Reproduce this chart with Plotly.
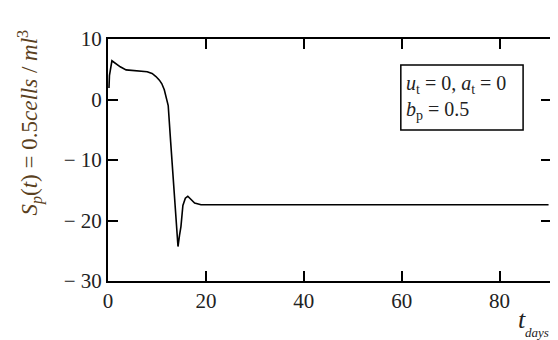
import plotly.graph_objects as go

t_days = [0.2, 0.3, 0.8, 1.5, 2.5, 3.7, 5.5, 8.0, 9.0, 9.8, 10.5, 11.0, 11.5, 11.9, 12.3,
          12.8, 13.3, 13.8, 14.1, 14.3, 14.6, 14.9, 15.3, 15.8, 16.3, 17.0, 17.7, 19.0, 90.0]
S_p = [1.9, 4.0, 6.4, 6.0, 5.4, 4.9, 4.8, 4.6, 4.3, 3.8, 3.2, 2.6, 1.6, 0.5, -1.0,
       -7.0, -13.0, -18.0, -21.5, -24.3, -22.5, -21.0, -17.5, -16.3, -16.0, -16.6, -17.1, -17.4, -17.4]

x_ticks = [0, 20, 40, 60, 80]
x_ticklabels = ["0", "20", "40", "60", "80"]
y_ticks = [10, 0, -10, -20, -30]
y_ticklabels = ["10", "0", "− 10", "− 20", "− 30"]

serif = "Liberation Serif"
txt = "#222222"

fig = go.Figure()
fig.add_trace(go.Scatter(x=t_days, y=S_p, mode="lines",
                         line=dict(color="black", width=1.6), showlegend=False))

fig.update_layout(
    width=558, height=340,
    margin=dict(l=100, r=15, t=31, b=67),
    paper_bgcolor="white", plot_bgcolor="white",
    xaxis=dict(range=[0, 90.5], tickvals=x_ticks, ticktext=x_ticklabels,
               showline=True, linecolor="black", linewidth=2, mirror="allticks",
               ticks="inside", ticklen=10, tickwidth=1.5, tickcolor="black",
               showgrid=False, zeroline=False,
               tickfont=dict(family=serif, size=21, color=txt)),
    yaxis=dict(range=[-30, 10], tickvals=y_ticks, ticktext=y_ticklabels,
               showline=True, linecolor="black", linewidth=2, mirror="allticks",
               ticks="inside", ticklen=10, tickwidth=1.5, tickcolor="black",
               showgrid=False, zeroline=False,
               tickfont=dict(family=serif, size=21, color=txt)),
)

# legend-like box
fig.add_shape(type="rect", xref="paper", yref="paper",
              x0=0.661, x1=0.937, y0=0.624, y1=0.893,
              line=dict(color="black", width=1.5), fillcolor="white")
fig.add_annotation(xref="paper", yref="paper", x=0.668, y=0.81,
                   xanchor="left", yanchor="middle", showarrow=False,
                   text="<i>u</i><sub>t</sub> = 0, <i>a</i><sub>t</sub> = 0",
                   font=dict(family=serif, size=20, color=txt))
fig.add_annotation(xref="paper", yref="paper", x=0.668, y=0.705,
                   xanchor="left", yanchor="middle", showarrow=False,
                   text="<i>b</i><sub>p</sub> = 0.5",
                   font=dict(family=serif, size=20, color=txt))

# x-axis title: t with subscript "days"
fig.add_annotation(xref="paper", yref="paper", x=0.922, y=-0.16,
                   xanchor="left", yanchor="middle", showarrow=False,
                   text="<i>t</i>",
                   font=dict(family=serif, size=26, color=txt))
fig.add_annotation(xref="paper", yref="paper", x=0.936, y=-0.212,
                   xanchor="left", yanchor="middle", showarrow=False,
                   text="<i>days</i>",
                   font=dict(family=serif, size=13, color=txt))

# y-axis title
fig.add_annotation(xref="paper", yref="paper", x=-0.176, y=0.655,
                   xanchor="center", yanchor="middle", showarrow=False, textangle=-90,
                   text="<i>S</i><sub><i>p</i></sub>(<i>t</i>) = 0.5<i>cells</i> / <i>ml</i><sup>3</sup>",
                   font=dict(family=serif, size=23, color="#5a4020"))

fig.write_html("out.html")
